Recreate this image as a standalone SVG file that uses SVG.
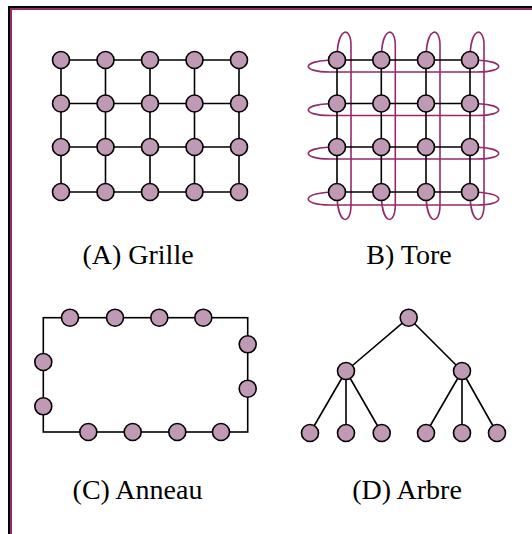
<svg xmlns="http://www.w3.org/2000/svg" width="532" height="534" viewBox="0 0 532 534">
<style>
.n{fill:#c09ab5;stroke:#000;stroke-width:1.6}
.e{stroke:#000;stroke-width:1.6;fill:none}
.w{stroke:#962a68;stroke-width:1.6;fill:none}
.lbl{font-family:"Liberation Serif","Times New Roman",serif;font-size:28px;fill:#000;text-anchor:middle}
</style>
<rect width="532" height="534" fill="#fff"/>
<g id="frame">
<path d="M9,534 V7 H532" stroke="#000" stroke-width="2" fill="none"/>
<path d="M11,534 V9 H532" stroke="#962a68" stroke-width="2" fill="none"/>
</g>
<g id="connectors">
<!-- A grid -->
<g class="e">
<path d="M61,60H239M61,103.5H239M61,147H239M61,192H239"/>
<path d="M61,60V192M105.5,60V192M150,60V192M194.5,60V192M239,60V192"/>
</g>
<!-- B torus wraps -->
<g class="w">
<path d="M337,60 C300,60 300,72 330,72 L477,72 C507,72 507,60 470,60"/>
<path d="M337,103.5 C300,103.5 300,115.5 330,115.5 L477,115.5 C507,115.5 507,103.5 470,103.5"/>
<path d="M337,147 C300,147 300,159 330,159 L477,159 C507,159 507,147 470,147"/>
<path d="M337,192 C300,192 300,205 330,205 L477,205 C507,205 507,192 470,192"/>
<path d="M337,60 C337,26 351,26 351,45 L351,205 C351,226 337,226 337,192"/>
<path d="M381.3,60 C381.3,26 395.3,26 395.3,45 L395.3,205 C395.3,226 381.3,226 381.3,192"/>
<path d="M426,60 C426,26 440,26 440,45 L440,205 C440,226 426,226 426,192"/>
<path d="M470,60 C470,26 484,26 484,45 L484,205 C484,226 470,226 470,192"/>
</g>
<g class="e">
<path d="M337,60H470M337,103.5H470M337,147H470M337,192H470"/>
<path d="M337,60V192M381.3,60V192M426,60V192M470,60V192"/>
</g>
<!-- C ring -->
<rect class="e" x="43.3" y="317.7" width="204.4" height="114.3"/>
<!-- D tree -->
<g class="e">
<path d="M408.7,317.7L346,371M408.7,317.7L462,371"/>
<path d="M346,371L310,433M346,371L346,433M346,371L381.7,433"/>
<path d="M462,371L426,433M462,371L462,433M462,371L497,433"/>
</g>
</g>
<g id="gridA">
<circle class="n" cx="61" cy="60" r="8.5"/><circle class="n" cx="105.5" cy="60" r="8.5"/><circle class="n" cx="150" cy="60" r="8.5"/><circle class="n" cx="194.5" cy="60" r="8.5"/><circle class="n" cx="239" cy="60" r="8.5"/>
<circle class="n" cx="61" cy="103.5" r="8.5"/><circle class="n" cx="105.5" cy="103.5" r="8.5"/><circle class="n" cx="150" cy="103.5" r="8.5"/><circle class="n" cx="194.5" cy="103.5" r="8.5"/><circle class="n" cx="239" cy="103.5" r="8.5"/>
<circle class="n" cx="61" cy="147" r="8.5"/><circle class="n" cx="105.5" cy="147" r="8.5"/><circle class="n" cx="150" cy="147" r="8.5"/><circle class="n" cx="194.5" cy="147" r="8.5"/><circle class="n" cx="239" cy="147" r="8.5"/>
<circle class="n" cx="61" cy="192" r="8.5"/><circle class="n" cx="105.5" cy="192" r="8.5"/><circle class="n" cx="150" cy="192" r="8.5"/><circle class="n" cx="194.5" cy="192" r="8.5"/><circle class="n" cx="239" cy="192" r="8.5"/>
</g>
<g id="torusB">
<circle class="n" cx="337" cy="60" r="8.5"/><circle class="n" cx="381.3" cy="60" r="8.5"/><circle class="n" cx="426" cy="60" r="8.5"/><circle class="n" cx="470" cy="60" r="8.5"/>
<circle class="n" cx="337" cy="103.5" r="8.5"/><circle class="n" cx="381.3" cy="103.5" r="8.5"/><circle class="n" cx="426" cy="103.5" r="8.5"/><circle class="n" cx="470" cy="103.5" r="8.5"/>
<circle class="n" cx="337" cy="147" r="8.5"/><circle class="n" cx="381.3" cy="147" r="8.5"/><circle class="n" cx="426" cy="147" r="8.5"/><circle class="n" cx="470" cy="147" r="8.5"/>
<circle class="n" cx="337" cy="192" r="8.5"/><circle class="n" cx="381.3" cy="192" r="8.5"/><circle class="n" cx="426" cy="192" r="8.5"/><circle class="n" cx="470" cy="192" r="8.5"/>
</g>
<g id="ringC">
<circle class="n" cx="70" cy="317.7" r="8.5"/><circle class="n" cx="115" cy="317.7" r="8.5"/><circle class="n" cx="159.3" cy="317.7" r="8.5"/><circle class="n" cx="203.3" cy="317.7" r="8.5"/>
<circle class="n" cx="247.7" cy="344.3" r="8.5"/><circle class="n" cx="247.7" cy="388.7" r="8.5"/>
<circle class="n" cx="88.3" cy="432" r="8.5"/><circle class="n" cx="132.7" cy="432" r="8.5"/><circle class="n" cx="177.3" cy="432" r="8.5"/><circle class="n" cx="221" cy="432" r="8.5"/>
<circle class="n" cx="43.3" cy="362" r="8.5"/><circle class="n" cx="43.3" cy="406.3" r="8.5"/>
</g>
<g id="treeD">
<circle class="n" cx="408.7" cy="317.7" r="8.5"/>
<circle class="n" cx="346" cy="371" r="8.5"/><circle class="n" cx="462" cy="371" r="8.5"/>
<circle class="n" cx="310" cy="433" r="8.5"/><circle class="n" cx="346" cy="433" r="8.5"/><circle class="n" cx="381.7" cy="433" r="8.5"/>
<circle class="n" cx="426" cy="433" r="8.5"/><circle class="n" cx="462" cy="433" r="8.5"/><circle class="n" cx="497" cy="433" r="8.5"/>
</g>
<g id="labels">
<text class="lbl" x="138" y="264">(A) Grille</text>
<text class="lbl" x="409" y="264">B) Tore</text>
<text class="lbl" x="137.5" y="498.7">(C) Anneau</text>
<text class="lbl" x="407" y="498.7">(D) Arbre</text>
</g>
</svg>
